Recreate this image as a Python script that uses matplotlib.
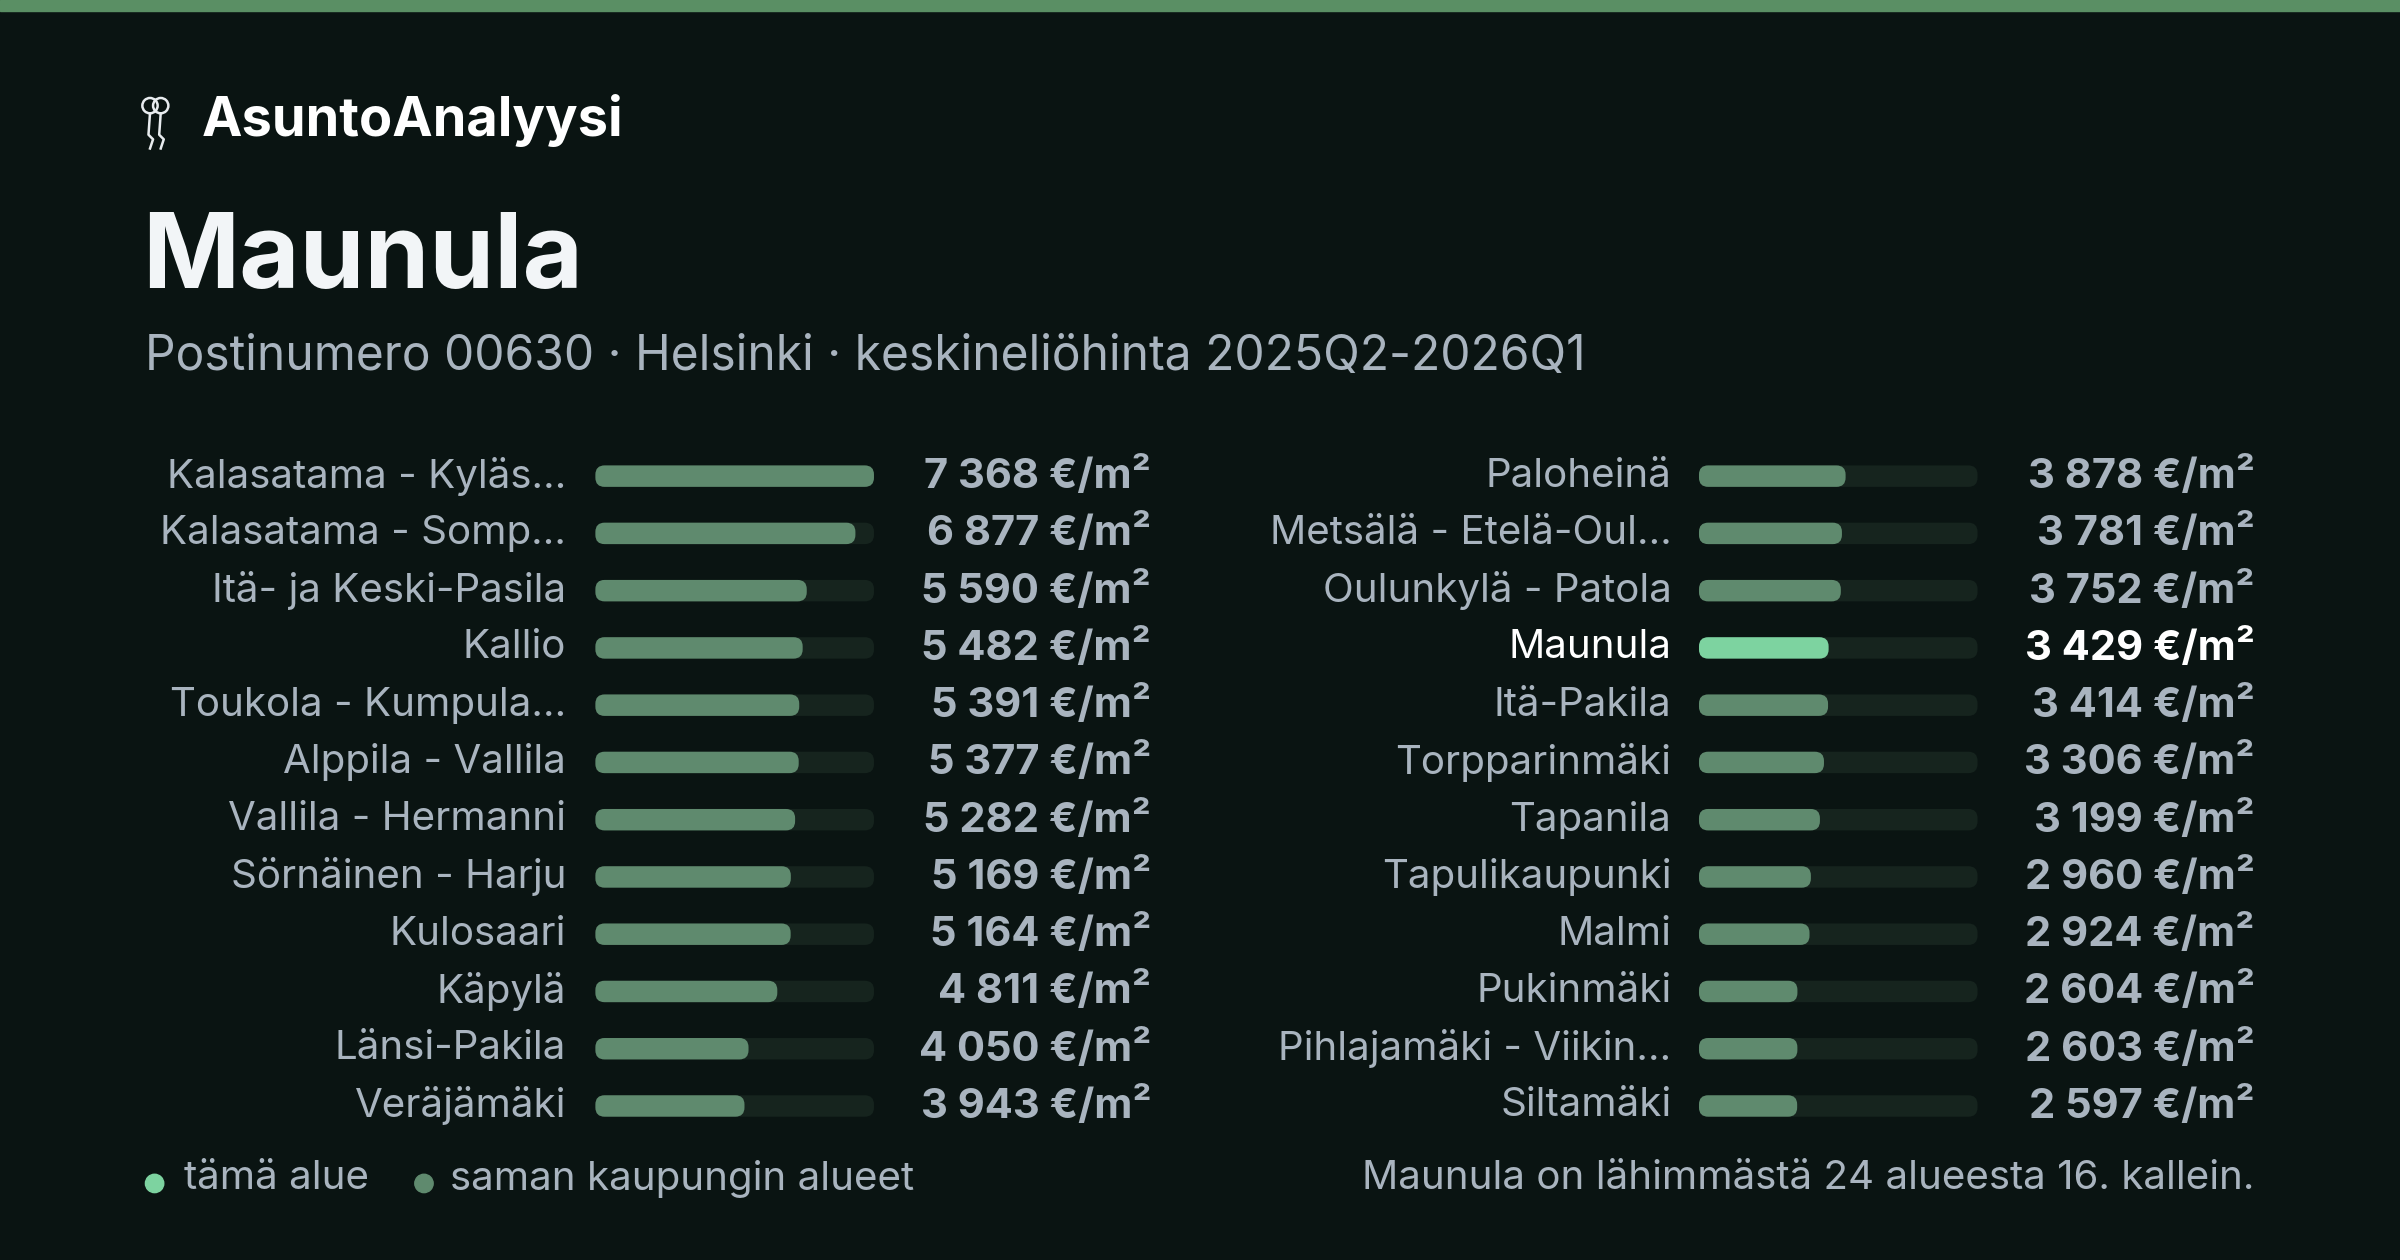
import matplotlib
matplotlib.use("Agg")
import matplotlib.pyplot as plt
from matplotlib.patches import FancyBboxPatch, Rectangle, Circle

plt.rcParams['font.family'] = ['Inter', 'DejaVu Sans']

left_names = ["Kalasatama - Kyläs…", "Kalasatama - Somp…", "Itä- ja Keski-Pasila", "Kallio",
              "Toukola - Kumpula…", "Alppila - Vallila", "Vallila - Hermanni", "Sörnäinen - Harju",
              "Kulosaari", "Käpylä", "Länsi-Pakila", "Veräjämäki"]
left_values = [7368, 6877, 5590, 5482, 5391, 5377, 5282, 5169, 5164, 4811, 4050, 3943]
right_names = ["Paloheinä", "Metsälä - Etelä-Oul…", "Oulunkylä - Patola", "Maunula", "Itä-Pakila",
               "Torpparinmäki", "Tapanila", "Tapulikaupunki", "Malmi", "Pukinmäki",
               "Pihlajamäki - Viikin…", "Siltamäki"]
right_values = [3878, 3781, 3752, 3429, 3414, 3306, 3199, 2960, 2924, 2604, 2603, 2597]
highlight = "Maunula"

BG = "#0a1412"; BAR = "#5f8a6e"; TRACK = "#16241e"; HI = "#7dd3a0"; TXT = "#a9b4bf"

fig = plt.figure(figsize=(24, 12.6), dpi=100)
fig.patch.set_facecolor(BG)
ax = fig.add_axes([0, 0, 1, 1])
ax.set_xlim(0, 1568); ax.set_ylim(823, 0); ax.axis("off")
ax.add_patch(Rectangle((0, 0), 1568, 7, color="#5a8f64"))

# simple key logo (two keys)
for dx in (-3, 4):
    ax.add_patch(Circle((101 + dx, 69), 5, fill=False, ec="#e8ecef", lw=1.8))
    ax.plot([101 + dx, 100 + dx, 103 + dx, 101 + dx], [74, 88, 91, 97], color="#e8ecef", lw=1.8)
ax.text(132, 79, "AsuntoAnalyysi", fontsize=39, fontweight="bold", color="white", va="center")
ax.text(93, 170, "Maunula", fontsize=75, fontweight="bold", color="#f2f5f7", va="center")
ax.text(95, 233, "Postinumero 00630 · Helsinki · keskineliöhinta 2025Q2-2026Q1", fontsize=34.5,
        color=TXT, va="center")

vmax = max(left_values + right_values)
def column(names, values, lab_x, bar_x, val_x):
    for i, (n, v) in enumerate(zip(names, values)):
        y = 311 + i * 37.4
        hi = n == highlight
        col = "white" if hi else TXT
        ax.text(lab_x, y, n, ha="right", va="center", fontsize=29, color=col)
        ax.add_patch(FancyBboxPatch((bar_x + 6, y - 1), 182 - 12, 2,
                     boxstyle="round,pad=6", fc=TRACK, ec="none"))
        w = 182 * v / vmax
        ax.add_patch(FancyBboxPatch((bar_x + 6, y - 1), w - 12, 2,
                     boxstyle="round,pad=6", fc=HI if hi else BAR, ec="none"))
        ax.text(val_x, y, f"{v:,}".replace(",", " ") + " €/m²", ha="right", va="center",
                fontsize=30, fontweight="bold", color=col)

column(left_names, left_values, 370, 389, 752)
column(right_names, right_values, 1092, 1110, 1473)

ax.add_patch(Circle((101, 773), 6, color=HI))
ax.text(120, 770, "tämä alue", fontsize=29, color=TXT, va="center")
ax.add_patch(Circle((277, 773), 6, color=BAR))
ax.text(294, 770, "saman kaupungin alueet", fontsize=29, color=TXT, va="center")
ax.text(1473, 770, "Maunula on lähimmästä 24 alueesta 16. kallein.", fontsize=29, color=TXT,
        va="center", ha="right")

fig.savefig("out.png", dpi=100, facecolor=BG)
